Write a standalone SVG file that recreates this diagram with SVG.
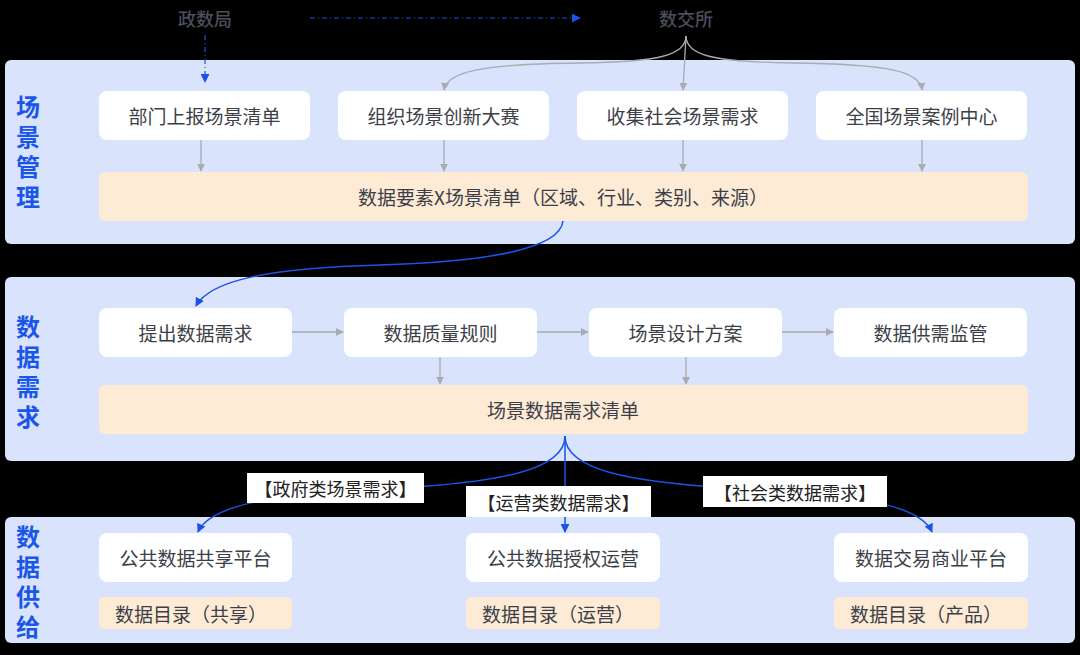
<svg xmlns="http://www.w3.org/2000/svg" width="1080" height="655" viewBox="0 0 1080 655">
<defs>
<style>
.panel{fill:#dae3fc;}
.box{fill:#ffffff;}
.bar{fill:#fdebd6;}
.t{font-family:"Noto Sans CJK SC","Noto Sans",sans-serif;font-size:19px;fill:#3c3f48;text-anchor:middle;dominant-baseline:central;}
.side{font-family:"Noto Sans CJK SC",sans-serif;font-size:24px;font-weight:bold;fill:#1a56ea;writing-mode:tb;letter-spacing:6px;}
.top{font-family:"Noto Sans CJK SC",sans-serif;font-size:18px;font-weight:500;fill:#4b4f5c;text-anchor:middle;dominant-baseline:central;}
.lab{font-family:"Noto Sans CJK SC",sans-serif;font-size:18px;fill:#222;text-anchor:middle;dominant-baseline:central;}
.g{fill:none;stroke:#a9abb0;stroke-width:1.3;}
.b{fill:none;stroke:#1a52e8;stroke-width:1.5;}
.bd{fill:none;stroke:#1a52e8;stroke-width:1.2;stroke-dasharray:5 3 1 3;}
</style>
<marker id="ag" viewBox="0 0 10 10" refX="9" refY="5" markerWidth="8" markerHeight="8" markerUnits="userSpaceOnUse" orient="auto"><path d="M0,0 L10,5 L0,10 z" fill="#a9abb0"/></marker>
<marker id="ab" viewBox="0 0 10 10" refX="9" refY="5" markerWidth="9" markerHeight="9" markerUnits="userSpaceOnUse" orient="auto"><path d="M0,0 L10,5 L0,10 z" fill="#1a52e8"/></marker>
</defs>
<rect width="1080" height="655" fill="#000"/>

<g id="panel-scene">
<rect class="panel" x="5" y="60" width="1070" height="184" rx="6"/>
<text class="side" x="28" y="95">场景管理</text>
</g>
<g id="panel-demand">
<rect class="panel" x="5" y="277" width="1070" height="184" rx="6"/>
<text class="side" x="28" y="315">数据需求</text>
</g>
<g id="panel-supply">
<rect class="panel" x="5" y="517" width="1070" height="126" rx="6"/>
<text class="side" x="28" y="525">数据供给</text>
</g>

<g id="n-zsj"><text class="top" x="205" y="18">政数局</text></g>
<g id="n-sjs"><text class="top" x="686" y="18">数交所</text></g>

<g id="n1"><rect class="box" x="99" y="91" width="211" height="49" rx="8"/><text class="t" x="204.5" y="115.5">部门上报场景清单</text></g>
<g id="n2"><rect class="box" x="338" y="91" width="211" height="49" rx="8"/><text class="t" x="443.5" y="115.5">组织场景创新大赛</text></g>
<g id="n3"><rect class="box" x="577" y="91" width="211" height="49" rx="8"/><text class="t" x="682.5" y="115.5">收集社会场景需求</text></g>
<g id="n4"><rect class="box" x="816" y="91" width="211" height="49" rx="8"/><text class="t" x="921.5" y="115.5">全国场景案例中心</text></g>
<g id="bar1"><rect class="bar" x="99" y="172" width="929" height="49" rx="6"/><text class="t" x="563" y="196.5">数据要素X场景清单（区域、行业、类别、来源）</text></g>

<g id="m1"><rect class="box" x="99" y="308" width="193" height="49" rx="8"/><text class="t" x="195.5" y="332.5">提出数据需求</text></g>
<g id="m2"><rect class="box" x="344" y="308" width="193" height="49" rx="8"/><text class="t" x="440.5" y="332.5">数据质量规则</text></g>
<g id="m3"><rect class="box" x="589" y="308" width="193" height="49" rx="8"/><text class="t" x="685.5" y="332.5">场景设计方案</text></g>
<g id="m4"><rect class="box" x="834" y="308" width="193" height="49" rx="8"/><text class="t" x="930.5" y="332.5">数据供需监管</text></g>
<g id="bar2"><rect class="bar" x="99" y="385" width="929" height="49" rx="6"/><text class="t" x="563" y="409.5">场景数据需求清单</text></g>

<g id="s1"><rect class="box" x="99" y="533" width="193" height="49" rx="8"/><text class="t" x="195.5" y="557.5">公共数据共享平台</text>
<rect class="bar" x="99" y="597" width="193" height="32" rx="5"/><text class="t" x="191" y="613">数据目录（共享）</text></g>
<g id="s2"><rect class="box" x="466" y="533" width="194" height="49" rx="8"/><text class="t" x="563" y="557.5">公共数据授权运营</text>
<rect class="bar" x="466" y="597" width="194" height="32" rx="5"/><text class="t" x="558" y="613">数据目录（运营）</text></g>
<g id="s3"><rect class="box" x="834" y="533" width="194" height="49" rx="8"/><text class="t" x="931" y="557.5">数据交易商业平台</text>
<rect class="bar" x="834" y="597" width="194" height="32" rx="5"/><text class="t" x="926" y="613">数据目录（产品）</text></g>

<g id="connectors">
<path class="bd" d="M310,18 L580,18" marker-end="url(#ab)"/>
<path class="bd" d="M205,35 L205,82" marker-end="url(#ab)"/>
<path class="g" d="M686,36 C686,55 660,62 580,63 C480,64 447,72 444,90" marker-end="url(#ag)"/>
<path class="g" d="M686,36 L683,90" marker-end="url(#ag)"/>
<path class="g" d="M686,36 C686,55 712,62 792,63 C892,64 920,72 922,90" marker-end="url(#ag)"/>
<path class="g" d="M201,140 L201,171" marker-end="url(#ag)"/>
<path class="g" d="M444,140 L444,171" marker-end="url(#ag)"/>
<path class="g" d="M683,140 L683,171" marker-end="url(#ag)"/>
<path class="g" d="M922,140 L922,171" marker-end="url(#ag)"/>
<path class="b" d="M563,221 C560,250 480,262 380,265 C270,268 210,280 196,306" marker-end="url(#ab)"/>
<path class="g" d="M292,332 L343,332" marker-end="url(#ag)"/>
<path class="g" d="M537,332 L588,332" marker-end="url(#ag)"/>
<path class="g" d="M782,332 L833,332" marker-end="url(#ag)"/>
<path class="g" d="M440,357 L440,384" marker-end="url(#ag)"/>
<path class="g" d="M686,357 L686,384" marker-end="url(#ag)"/>
<path class="b" d="M565,436 C565,470 500,482 400,488 C270,494 210,505 198,532" marker-end="url(#ab)"/>
<path class="b" d="M565,436 L565,532" marker-end="url(#ab)"/>
<path class="b" d="M565,436 C565,470 630,482 730,488 C860,494 920,505 932,532" marker-end="url(#ab)"/>
<g id="labels">
<rect x="247" y="473" width="177" height="30" fill="#fff"/><text class="lab" x="335.5" y="488">【政府类场景需求】</text>
<rect x="466" y="486" width="185" height="31" fill="#fff"/><text class="lab" x="558.5" y="501.5">【运营类数据需求】</text>
<rect x="703" y="476" width="184" height="31" fill="#fff"/><text class="lab" x="795" y="491.5">【社会类数据需求】</text>
</g>
</g>
</svg>
